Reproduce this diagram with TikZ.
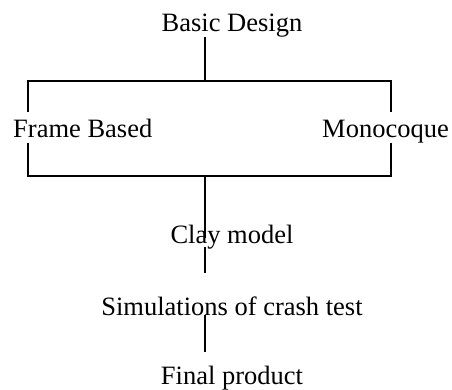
\documentclass[tikz,border=0pt]{standalone}
\usepackage{fontspec}
\setmainfont{Liberation Serif}
\usepackage{tikz}
\usetikzlibrary{positioning, calc}
\definecolor{linkdark}{RGB}{0, 0, 0}

\tikzset{
    stage/.style={inner sep=0pt, anchor=base, font=\fontsize{26.5}{30}\selectfont},
    link/.style={draw=linkdark, line width=1.2pt}
}

\begin{document}
\begin{tikzpicture}[x=1pt, y=-1pt]
            \useasboundingbox (0,0) rectangle (452,390);
            % stages
            \node[stage] (basic) at (232,32) {Basic Design};
            \node[stage, anchor=base west] (frame) at (13,138) {Frame Based};
            \node[stage, anchor=base east] (mono) at (449,138) {Monocoque};
            \node[stage] (clay) at (232,243) {Clay model};
            \node[stage] (sim) at (232,315) {Simulations of crash test};
            \node[stage] (final) at (232,384) {Final product};
            % ends of the connectors
            \coordinate (basicdown) at (205,37);
            \coordinate (splitmid) at (205,81);
            \coordinate (splitleft) at (28,81);
            \coordinate (splitright) at (391,81);
            \coordinate (frametop) at (28,112);
            \coordinate (monotop) at (391,112);
            \coordinate (framedown) at (28,143);
            \coordinate (monodown) at (391,143);
            \coordinate (joinleft) at (28,176);
            \coordinate (joinright) at (391,176);
            \coordinate (joinmid) at (205,176);
            \coordinate (claytop) at (205,238);
            \coordinate (claydown) at (205,247);
            \coordinate (simtop) at (205,273);
            \coordinate (simdown) at (205,315);
            \coordinate (finaltop) at (205,352);
            % connectors
            \draw[link] (basicdown) -- (splitmid);
            \draw[link] (frametop) -- (splitleft) -- (splitright) -- (monotop);
            \draw[link] (framedown) -- (joinleft) -- (joinright) -- (monodown);
            \draw[link] (joinmid) -- (claytop);
            \draw[link] (claydown) -- (simtop);
            \draw[link] (simdown) -- (finaltop);
        \end{tikzpicture}
\end{document}
